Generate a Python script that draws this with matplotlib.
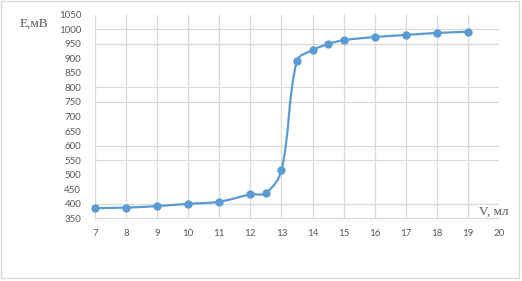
import matplotlib

matplotlib.use("Agg")

import matplotlib.pyplot as plt
import numpy as np
from matplotlib.patches import PathPatch, Rectangle
from matplotlib.path import Path

# titration curve: volume (ml) vs potential (mV)
volume = [7, 8, 9, 10, 11, 12, 12.5, 13, 13.5, 14, 14.5, 15, 16, 17, 18, 19]
potential = [385, 387, 392, 400, 407, 432, 437, 515, 892, 928, 949, 962, 973, 980, 987, 991]

x_ticks = list(range(7, 21))
y_ticks = list(range(350, 1051, 50))
# horizontal grid lines that survive in the original (downscaled) picture
grid_levels = [400, 550, 600, 750, 800, 950, 1000]

BLUE = "#5B9BD5"
GRID = "#D9D9D9"
TEXT = "#595959"


def smooth_path(ax, xs, ys):
    # Excel-like smoothed line: tangent along neighbours, handle length scaled
    # by the segment length, worked out in pixel space to avoid overshoot
    pts = ax.transData.transform(np.column_stack([xs, ys]).astype(float))
    n = len(pts)
    tang = []
    for i in range(n):
        a = pts[max(i - 1, 0)]
        b = pts[min(i + 1, n - 1)]
        d = b - a
        tang.append(d / np.hypot(*d))
    verts = [pts[0]]
    codes = [Path.MOVETO]
    for i in range(n - 1):
        p1, p2 = pts[i], pts[i + 1]
        seg = np.hypot(*(p2 - p1)) / 3.0
        verts += [p1 + tang[i] * seg, p2 - tang[i + 1] * seg, p2]
        codes += [Path.CURVE4] * 3
    inv = ax.transData.inverted()
    return Path(inv.transform(np.array(verts)), codes)


fig = plt.figure(figsize=(5.22, 2.81), dpi=100)
fig.patches.append(Rectangle((0.002, 0.01), 0.992, 0.986, transform=fig.transFigure,
                             fill=False, edgecolor="#D9D9D9", linewidth=1.0))

ax = fig.add_axes([0.182, 0.223, 0.774, 0.725])
ax.set_xlim(7, 20)
ax.set_ylim(350, 1050)
ax.set_xticks(x_ticks)
ax.set_yticks(y_ticks)

for v in x_ticks:
    ax.axvline(v, color=GRID, linewidth=0.9, zorder=0)
for v in grid_levels:
    ax.axhline(v, color=GRID, linewidth=0.9, zorder=0)

for name in ["top", "right", "left"]:
    ax.spines[name].set_visible(False)
ax.spines["bottom"].set_color(GRID)
ax.spines["bottom"].set_linewidth(0.9)

ax.tick_params(length=0, labelsize=7, labelcolor=TEXT, pad=8)
ax.tick_params(axis="y", pad=10)
for lbl in ax.get_xticklabels() + ax.get_yticklabels():
    lbl.set_family("Lato")

ax.add_patch(PathPatch(smooth_path(ax, volume, potential), facecolor="none",
                       edgecolor=BLUE, linewidth=1.6, zorder=3, clip_on=False))
ax.plot(volume, potential, linestyle="none", marker="o", markersize=5,
        color=BLUE, zorder=4, clip_on=False)

fig.text(0.065, 0.915, "E,мВ", family="Liberation Serif", fontsize=9.5,
         color=TEXT, ha="center", va="center")
fig.text(0.946, 0.245, "V, мл", family="Liberation Serif", fontsize=9.5,
         color=TEXT, ha="center", va="center")

fig.savefig("out.png", dpi=100)
